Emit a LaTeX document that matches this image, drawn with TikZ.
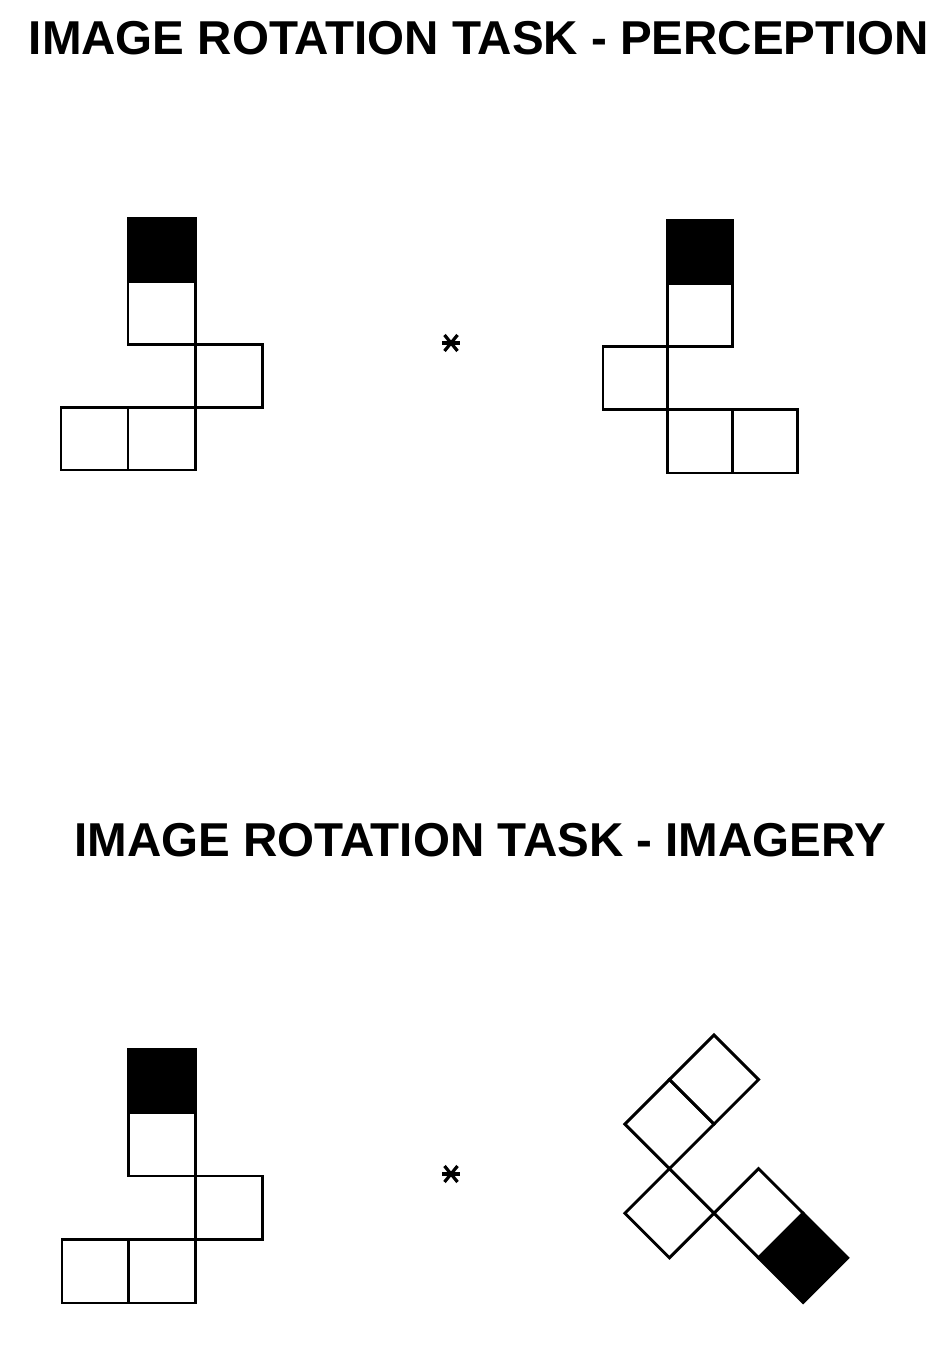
\documentclass[tikz,border=0pt]{standalone}
\usepackage{fontspec}
\setmainfont{Liberation Sans}
\usepackage{tikz}
\usetikzlibrary{positioning}

\begin{document}
\begin{tikzpicture}[
    x=0.025cm, y=0.025cm,
    cell/.style = {draw, line width=2.1pt, line join=miter},
    dark/.style = {cell, fill=black},
    title/.style = {inner sep=0pt, anchor=base, font=\fontsize{33.8}{40}\selectfont\bfseries},
    fix/.style = {line width=2.3pt}
  ]
  \useasboundingbox (0,0) rectangle (945,1372);

  % Ueberschriften
  \node[title] (percTitle) at (479,1317) {IMAGE ROTATION TASK - PERCEPTION};
  \node[title] (imagTitle) at (480,515) {IMAGE ROTATION TASK - IMAGERY};

  % Fixationspunkte
  \coordinate (fixTop) at (451,1029);
  \coordinate (fixBot) at (451,198);
  \foreach \f in {fixTop, fixBot} {
    \draw[fix] (\f) +(-9,0) -- +(9,0);
    \draw[fix] (\f) +(-6.5,8) -- +(6.5,-8);
    \draw[fix] (\f) +(-6.5,-8) -- +(6.5,8);
  }

  % Wahrnehmung: Vorlage
  \begin{scope}[shift={(61,902)}, x=1.675cm, y=1.57cm]
    \foreach \i/\j in {0/0, 1/0, 2/1, 1/2}
      \draw[cell] (\i,\j) rectangle ++(1,1);
    \draw[dark] (1,3) rectangle ++(1,1);
  \end{scope}

  % Wahrnehmung: gespiegelt
  \begin{scope}[shift={(603,899)}, x=1.62cm, y=1.575cm]
    \foreach \i/\j in {1/0, 2/0, 0/1, 1/2}
      \draw[cell] (\i,\j) rectangle ++(1,1);
    \draw[dark] (1,3) rectangle ++(1,1);
  \end{scope}

  % Vorstellung: Vorlage
  \begin{scope}[shift={(62,69)}, x=1.667cm, y=1.587cm]
    \foreach \i/\j in {0/0, 1/0, 2/1, 1/2}
      \draw[cell] (\i,\j) rectangle ++(1,1);
    \draw[dark] (1,3) rectangle ++(1,1);
  \end{scope}

  % Vorstellung: gedreht
  \begin{scope}[shift={(714,337)}, rotate=-135, x=1.575cm, y=1.575cm]
    \foreach \i/\j in {0/0, 1/0, 2/1, 1/2}
      \draw[cell] (\i,\j) rectangle ++(1,1);
    \draw[dark] (1,3) rectangle ++(1,1);
  \end{scope}
\end{tikzpicture}
\end{document}
